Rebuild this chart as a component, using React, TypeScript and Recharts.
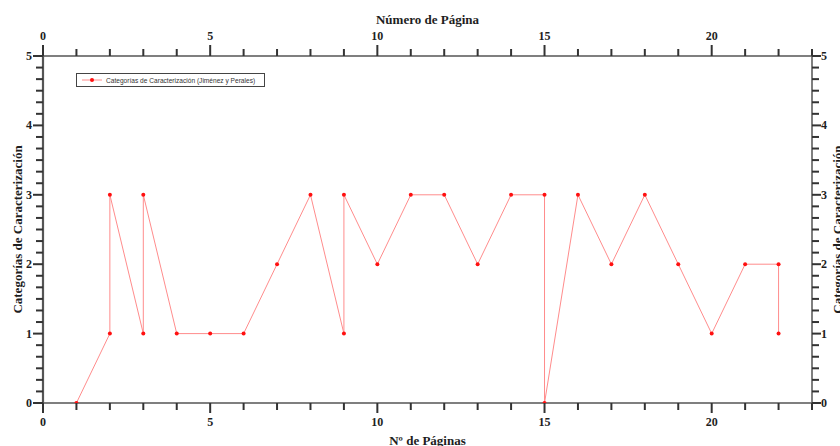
import React from 'react';
import { LineChart, Line, XAxis, YAxis, Legend } from 'recharts';

const pages = [1, 2, 2, 3, 3, 4, 5, 6, 7, 8, 9, 9, 10, 11, 12, 13, 14, 15, 15, 16, 17, 18, 19, 20, 21, 22, 22];
const categories = [0, 1, 3, 1, 3, 1, 1, 1, 2, 3, 1, 3, 2, 3, 3, 2, 3, 3, 0, 3, 2, 3, 2, 1, 2, 2, 1];

const xTickValues = [0, 1, 2, 3, 4, 5, 6, 7, 8, 9, 10, 11, 12, 13, 14, 15, 16, 17, 18, 19, 20, 21, 22, 23];
const xMajorLabels = [0, 5, 10, 15, 20];
const yTickValues = Array.from({ length: 31 }, (_, i) => i / 6);
const yMajorLabels = [0, 1, 2, 3, 4, 5];

const seriesName = 'Categorías de Caracterización (Jiménez y Perales)';
const bottomTitle = 'Nº de Páginas';
const topTitle = 'Número de Página';
const yTitle = 'Categorías de Caracterización';

const data = pages.map((p, i) => ({ x: p, y: categories[i] }));

const SERIF = '"Liberation Serif", "Times New Roman", serif';
const AXIS = '#555555';
const TICK = '#333333';
const TEXT = '#1e1e1e';
const LINE = '#ff8c8c';
const DOT = '#ff1010';

const isMajorX = (v: number) => xMajorLabels.includes(v);
const isMajorY = (v: number) => yMajorLabels.some((m) => Math.abs(m - v) < 1e-6);

const tickText = { fontFamily: SERIF, fontWeight: 700, fontSize: 12, fill: TEXT } as const;
const titleText = { fontFamily: SERIF, fontWeight: 700, fontSize: 13, fill: TEXT } as const;

const BottomTick = (props: any) => {
  const { x, y, payload } = props;
  const major = isMajorX(payload.value);
  return (
    <g>
      <path d={`M${x},${y}V${y + (major ? 10 : 7)}`} stroke={TICK} strokeWidth={2} fill="none" />
      {major && (
        <text x={x} y={y + 19} textAnchor="middle" dominantBaseline="central" {...tickText}>
          {payload.value}
        </text>
      )}
    </g>
  );
};

const TopTick = (props: any) => {
  const { x, y, payload } = props;
  const major = isMajorX(payload.value);
  return (
    <g>
      <path d={`M${x},${y}V${y - (major ? 11 : 7)}`} stroke={TICK} strokeWidth={2} fill="none" />
      {major && (
        <text x={x} y={y - 20} textAnchor="middle" dominantBaseline="central" {...tickText}>
          {payload.value}
        </text>
      )}
    </g>
  );
};

const LeftTick = (props: any) => {
  const { x, y, payload } = props;
  const major = isMajorY(payload.value);
  return (
    <g>
      <path d={`M${x},${y}H${x - (major ? 10 : 7)}`} stroke={TICK} strokeWidth={2} fill="none" />
      {major && (
        <text x={x - 11} y={y} textAnchor="end" dominantBaseline="central" {...tickText}>
          {Math.round(payload.value)}
        </text>
      )}
    </g>
  );
};

const RightTick = (props: any) => {
  const { x, y, payload } = props;
  const major = isMajorY(payload.value);
  return (
    <g>
      <path d={`M${x},${y}H${x + (major ? 9 : 7)}`} stroke={TICK} strokeWidth={2} fill="none" />
      {major && (
        <text x={x + 9} y={y} textAnchor="start" dominantBaseline="central" {...tickText}>
          {Math.round(payload.value)}
        </text>
      )}
    </g>
  );
};

const bottomLabel = (props: any) => {
  const vb = props.viewBox || {};
  return (
    <text x={vb.x + vb.width / 2} y={vb.y + 37} textAnchor="middle" dominantBaseline="central" {...titleText}>
      {bottomTitle}
    </text>
  );
};

const topLabel = (props: any) => {
  const vb = props.viewBox || {};
  return (
    <text x={vb.x + vb.width / 2} y={vb.y + 19} textAnchor="middle" dominantBaseline="central" {...titleText}>
      {topTitle}
    </text>
  );
};

const leftLabel = (props: any) => {
  const vb = props.viewBox || {};
  const cx = vb.x + 17.5;
  const cy = vb.y + vb.height / 2;
  return (
    <text x={cx} y={cy} transform={`rotate(-90 ${cx} ${cy})`} textAnchor="middle" dominantBaseline="central" {...titleText}>
      {yTitle}
    </text>
  );
};

const rightLabel = (props: any) => {
  const vb = props.viewBox || {};
  const cx = vb.x + 25;
  const cy = vb.y + vb.height / 2;
  return (
    <text x={cx} y={cy} transform={`rotate(-90 ${cx} ${cy})`} textAnchor="middle" dominantBaseline="central" {...titleText}>
      {yTitle}
    </text>
  );
};

const LegendBox = () => (
  <div
    style={{
      width: 189,
      height: 14,
      boxSizing: 'border-box',
      border: '1.5px solid #444',
      background: '#fff',
      display: 'flex',
      alignItems: 'center',
      paddingLeft: 5,
      fontFamily: '"Liberation Sans", Arial, sans-serif',
      fontSize: 6.6,
      color: '#333',
      whiteSpace: 'nowrap',
    }}
  >
    <svg width={20} height={8} style={{ marginRight: 4 }}>
      <line x1={0} y1={4} x2={20} y2={4} stroke={LINE} strokeWidth={1} />
      <circle cx={10} cy={4} r={2} fill={DOT} />
    </svg>
    <span>{seriesName}</span>
  </div>
);

export default function App() {
  return (
    <div style={{ position: 'absolute', left: 0, top: 0, width: 840, height: 446, background: '#fff' }}>
      <LineChart width={840} height={446} data={data} margin={{ top: 0, right: 0, bottom: 0, left: 0 }}>
        <XAxis
          xAxisId="bottom"
          dataKey="x"
          type="number"
          domain={[0, 23]}
          ticks={xTickValues}
          interval={0}
          orientation="bottom"
          height={43}
          tickSize={0}
          tickMargin={0}
          tickLine={false}
          tick={<BottomTick />}
          axisLine={{ stroke: AXIS, strokeWidth: 1.5 }}
          allowDataOverflow
          label={bottomLabel}
        />
        <XAxis
          xAxisId="top"
          dataKey="x"
          type="number"
          domain={[0, 23]}
          ticks={xTickValues}
          interval={0}
          orientation="top"
          height={56}
          tickSize={0}
          tickMargin={0}
          tickLine={false}
          tick={<TopTick />}
          axisLine={{ stroke: AXIS, strokeWidth: 1.5 }}
          allowDataOverflow
          label={topLabel}
        />
        <YAxis
          yAxisId="left"
          type="number"
          domain={[0, 5]}
          ticks={yTickValues}
          interval={0}
          orientation="left"
          width={43}
          tickSize={0}
          tickMargin={0}
          tickLine={false}
          tick={<LeftTick />}
          axisLine={{ stroke: AXIS, strokeWidth: 2.2 }}
          allowDataOverflow
          label={leftLabel}
        />
        <YAxis
          yAxisId="right"
          type="number"
          domain={[0, 5]}
          ticks={yTickValues}
          interval={0}
          orientation="right"
          width={28}
          tickSize={0}
          tickMargin={0}
          tickLine={false}
          tick={<RightTick />}
          axisLine={{ stroke: AXIS, strokeWidth: 1.5 }}
          allowDataOverflow
          label={rightLabel}
        />
        <Legend
          layout="horizontal"
          verticalAlign="middle"
          align="center"
          wrapperStyle={{ left: 76, top: 73, width: 'auto' }}
          content={<LegendBox />}
        />
        <Line
          xAxisId="top"
          yAxisId="right"
          dataKey="y"
          type="linear"
          stroke="none"
          dot={false}
          activeDot={false}
          legendType="none"
          isAnimationActive={false}
        />
        <Line
          xAxisId="bottom"
          yAxisId="left"
          dataKey="y"
          name={seriesName}
          type="linear"
          stroke={LINE}
          strokeWidth={1}
          dot={{ r: 2, fill: DOT, stroke: 'none' }}
          activeDot={false}
          isAnimationActive={false}
        />
      </LineChart>
    </div>
  );
}
